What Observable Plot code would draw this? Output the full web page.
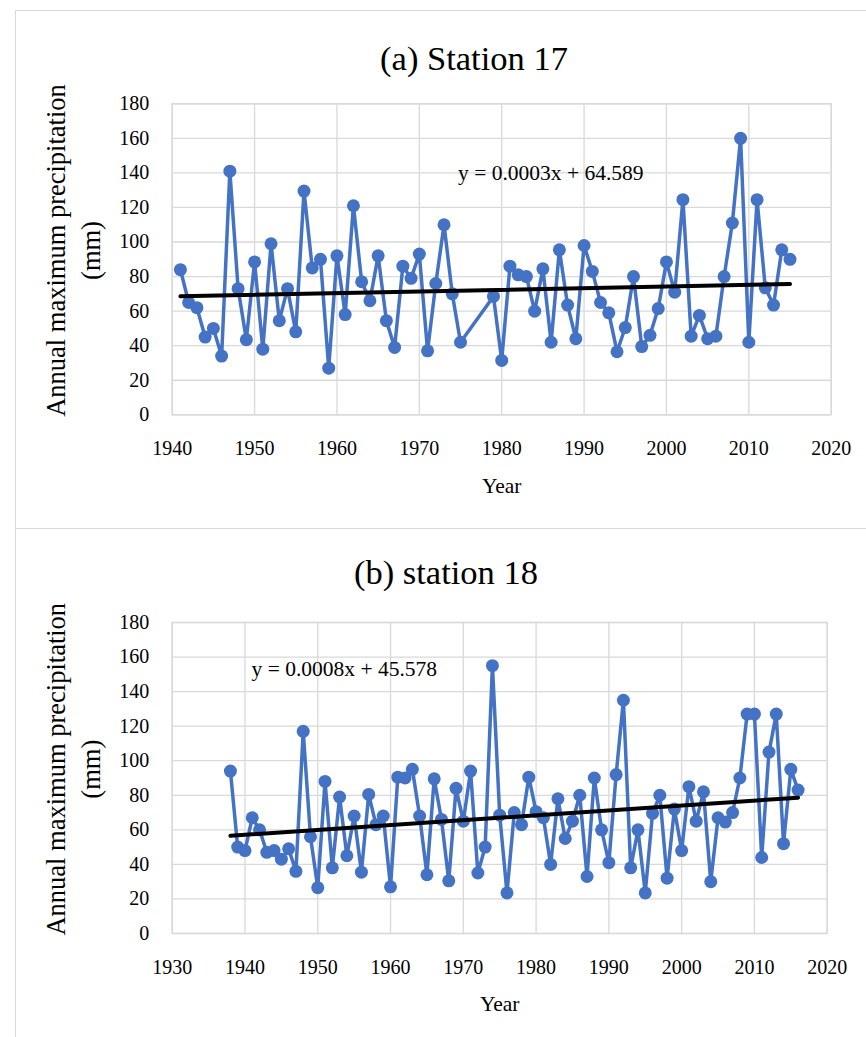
<!DOCTYPE html>
<html><head><meta charset="utf-8">
<script src="https://cdn.jsdelivr.net/npm/d3@7"></script>
<script src="https://cdn.jsdelivr.net/npm/@observablehq/plot@0.6"></script>
<style>
body{margin:0;background:#fff;font-family:"Liberation Serif",serif;}
#wrap{position:relative;width:866px;height:1037px;overflow:hidden;}
.panel{position:absolute;left:15px;width:900px;border:1px solid #d9d9d9;box-sizing:border-box;}
.title{position:absolute;font-size:34.5px;color:#000;white-space:nowrap;transform:translate(-50%,-50%);line-height:1;}
.chart{position:absolute;left:0;}
</style></head><body>
<div id="wrap">
 <div class="panel" style="top:10px;height:519px;"></div>
 <div class="panel" style="top:528px;height:600px;"></div>
 <div class="title" style="left:474px;top:58px">(a) Station 17</div>
 <div class="title" style="left:446px;top:572px">(b) station 18</div>
 <div class="chart" id="ca" style="top:80px"></div>
 <div class="chart" id="cb" style="top:600px"></div>
</div>
<script>
// Station 17
const yearsA = [1941,1942,1943,1944,1945,1946,1947,1948,1949,1950,1951,1952,1953,1954,1955,1956,1957,1958,1959,1960,
  1961,1962,1963,1964,1965,1966,1967,1968,1969,1970,1971,1972,1973,1974,1975,
  1979,1980,1981,1982,1983,1984,1985,1986,1987,1988,1989,1990,1991,1992,1993,1994,1995,1996,1997,1998,1999,
  2000,2001,2002,2003,2004,2005,2006,2007,2008,2009,2010,2011,2012,2013,2014,2015];
const precipA = [84,65,62,45,50,34,141,73,43.5,88.5,38,99,54.5,73,48,129.5,85,90,27,92,
  58,121,77,66,92,54.5,39,86,79,93,37,76,110,70,42,
  68.5,31.5,86,81,80,60,84.5,42,95.5,63.5,44,98,83,65,59,36.5,50.5,80,39.5,46,61.5,
  88.5,71,124.5,45.5,57.5,44,45.5,80,111,160,42,124.5,73.5,63.5,95.5,90];
// Station 18
const yearsB = [1938,1939,1940,1941,1942,1943,1944,1945,1946,1947,1948,1949,1950,1951,1952,1953,1954,1955,1956,1957,
  1958,1959,1960,1961,1962,1963,1964,1965,1966,1967,1968,1969,1970,1971,1972,1973,1974,1975,1976,1977,
  1978,1979,1980,1981,1982,1983,1984,1985,1986,1987,1988,1989,1990,1991,1992,1993,1994,1995,1996,1997,
  1998,1999,2000,2001,2002,2003,2004,2005,2006,2007,2008,2009,2010,2011,2012,2013,2014,2015,2016];
const precipB = [94,50,48,67,60,47,48,43,49,36,117,56,26.5,88,38,79,45,68,35.5,80.5,
  63,68,27,90.5,90,95,68,34,89.5,66,30.5,84,65,94,35,50,155,68.5,23.5,70,
  63,90.5,70.5,67,40,78,55,65,80,33,90,60,41,92,135,38,60,23.5,69.5,80,
  32,72,48,85,65,82,30,67,64.5,70,90,127,127,44,105,127,52,95,83];

const yTicks = [0,20,40,60,80,100,120,140,160,180];
const xTicksA = [1940,1950,1960,1970,1980,1990,2000,2010,2020];
const xTicksB = [1930,1940,1950,1960,1970,1980,1990,2000,2010,2020];
const eqA = "y = 0.0003x + 64.589";
const eqB = "y = 0.0008x + 45.578";
const yLabel = "Annual maximum precipitation\n(mm)";
const xLabel = "Year";

function makeChart(o) {
  const data = o.years.map((y, i) => ({year: y, value: o.values[i]}));
  return Plot.plot({
    width: 866, height: o.height,
    marginLeft: 171.7, marginRight: o.marginRight, marginTop: o.marginTop, marginBottom: o.marginBottom,
    style: {fontFamily: "'Liberation Serif', serif", fontSize: "20px", color: "#000", background: "transparent", overflow: "visible"},
    x: {domain: [o.xTicks[0], o.xTicks[o.xTicks.length - 1]], ticks: o.xTicks, tickSize: 0, tickPadding: 26, label: null, tickFormat: d => String(d)},
    y: {domain: [0, 180], ticks: yTicks, tickSize: 0, tickPadding: 23, label: null},
    marks: [
      Plot.ruleX(o.xTicks, {stroke: "#d9d9d9", strokeWidth: 1.3}),
      Plot.ruleY(yTicks, {stroke: "#d9d9d9", strokeWidth: 1.3}),
      Plot.frame({stroke: "#d9d9d9", strokeWidth: 1.3}),
      Plot.line(data, {x: "year", y: "value", stroke: "#4472C4", strokeWidth: 3.5}),
      Plot.dot(data, {x: "year", y: "value", r: 6.5, fill: "#4472C4"}),
      Plot.linearRegressionY(data, {x: "year", y: "value", stroke: "#000", strokeWidth: 4, ci: 0}),
      Plot.text([o.eq], {x: o.eqX, y: o.eqY, text: d => d, textAnchor: "start", fontSize: 21.5, fill: "#000"}),
      Plot.text([yLabel], {frameAnchor: "left", rotate: -90, dx: -100.7, dy: -8.8, text: d => d, fontSize: 26.5, lineHeight: 1.3, textAnchor: "middle", lineAnchor: "middle", fill: "#000"}),
      Plot.text([xLabel], {frameAnchor: "bottom", dy: 71, text: d => d, fontSize: 21.5, textAnchor: "middle", lineAnchor: "middle", fill: "#000"})
    ]
  });
}

document.getElementById("ca").appendChild(makeChart({
  years: yearsA, values: precipA, xTicks: xTicksA, height: 440,
  marginRight: 35.3, marginTop: 23.3, marginBottom: 105.7, eq: eqA, eqX: 1974.7, eqY: 140
}));
document.getElementById("cb").appendChild(makeChart({
  years: yearsB, values: precipB, xTicks: xTicksB, height: 437,
  marginRight: 39.3, marginTop: 22, marginBottom: 104, eq: eqB, eqX: 1940.9, eqY: 153
}));
</script>
</body></html>
